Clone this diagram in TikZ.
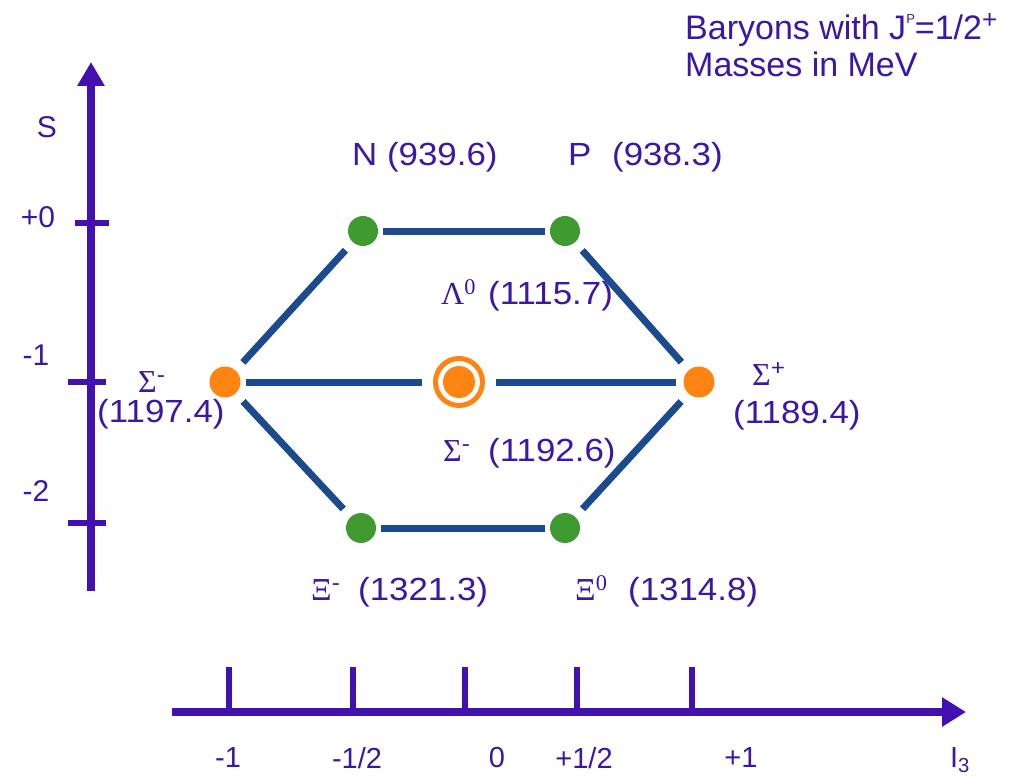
\documentclass[tikz,border=0pt]{standalone}
\usepackage{fontspec}
\setmainfont{Liberation Sans}
\newfontfamily\lbl{Liberation Sans}[FakeStretch=1.09]
\newfontfamily\gr{Liberation Serif}
\usetikzlibrary{arrows.meta}
\definecolor{txtcol}{HTML}{3A17A6}
\definecolor{axiscol}{HTML}{4310B2}
\definecolor{edgeblue}{HTML}{1B4A8E}
\definecolor{dotgreen}{HTML}{3F9A2F}
\definecolor{dotorange}{HTML}{FF8412}
\tikzset{
  dot/.style={circle, inner sep=0pt, minimum size=30pt, outer sep=0pt},
  gdot/.style={dot, fill=dotgreen},
  odot/.style={dot, fill=dotorange, minimum size=31pt},
  edge/.style={draw=edgeblue, line width=7pt},
  hedge/.style={edge, shorten <=5pt, shorten >=5pt},
  dedge/.style={edge, shorten <=11pt, shorten >=11pt},
  axis/.style={draw=axiscol, line width=8pt},
  tickmark/.style={draw=axiscol, line width=6pt},
  lab/.style={text=txtcol, font=\lbl\fontsize{32}{36}\selectfont, inner sep=0pt, anchor=base west},
  axlab/.style={text=txtcol, font=\fontsize{30}{32}\selectfont, inner sep=0pt},
}
\begin{document}
\begin{tikzpicture}[x=1pt, y=-1pt]
\useasboundingbox (0,0) rectangle (1021,776);
% particles
\node[gdot] (N) at (363,231) {};
\node[gdot] (P) at (565,231) {};
\node[odot] (Sm) at (225,382) {};
\node[odot] (Sp) at (699,382) {};
\node[gdot] (Xm) at (361,528) {};
\node[gdot] (X0) at (565,528) {};
\node[circle, draw=dotorange, line width=5pt, minimum size=47pt, inner sep=0pt,
  path picture={\fill[dotorange] (path picture bounding box.center) circle (16pt);}] (C) at (459,382) {};
% edges
\draw[hedge] (N) -- (P);
\draw[hedge] (Xm) -- (X0);
\draw[dedge] (N) -- (Sm);
\draw[dedge] (Sm) -- (Xm);
\draw[dedge] (P) -- (Sp);
\draw[dedge] (Sp) -- (X0);
\draw[edge, shorten <=5pt, shorten >=11pt] (Sm) -- (C);
\draw[edge, shorten <=11pt, shorten >=8pt] (C) -- (Sp);
% labels
\node[lab] (lN) at (352,165) {N (939.6)};
\node[lab] (lP) at (568,165) {\makebox[44pt][l]{P}(938.3)};
\node[lab] (lL) at (441,304) {\makebox[47pt][l]{\gr Λ\textsuperscript{0}}(1115.7)};
\node[lab] (lS0) at (443,461) {\makebox[45pt][l]{{\gr Σ}\textsuperscript{-}}(1192.6)};
\node[lab] (lSm) at (138,392) {{\gr Σ}\textsuperscript{-}};
\node[lab] (lSm2) at (97,422) {(1197.4)};
\node[lab] (lSp) at (752,385) {{\gr Σ}\textsuperscript{+}};
\node[lab] (lSp2) at (733,423) {(1189.4)};
\node[lab] (lXm) at (311,600) {\makebox[47pt][l]{{\gr Ξ}\textsuperscript{-}}(1321.3)};
\node[lab] (lX0) at (575,600) {\makebox[53pt][l]{\gr Ξ\textsuperscript{0}}(1314.8)};
% title
\node[lab, font=\fontsize{34}{37}\selectfont] (t1) at (685,40) {Baryons with J\raisebox{16pt}{\fontsize{13}{13}\selectfont P}=1/2\raisebox{11pt}{\fontsize{26}{26}\selectfont +}};
\node[lab, font=\fontsize{34}{37}\selectfont] (t2) at (685,77) {Masses in MeV};
% S axis
\coordinate (ybot) at (91,591);
\coordinate (ytop) at (91,62);
\draw[axis, -{Triangle[length=24pt, width=26pt]}] (ybot) -- (ytop);
\coordinate (t0a) at (75,223); \coordinate (t0b) at (109,223);
\coordinate (t1a) at (68,382); \coordinate (t1b) at (106,382);
\coordinate (t2a) at (68,523); \coordinate (t2b) at (106,523);
\draw[tickmark] (t0a) -- (t0b);
\draw[tickmark] (t1a) -- (t1b);
\draw[tickmark] (t2a) -- (t2b);
\node[axlab] (S) at (47,127) {S};
\node[axlab] (s0) at (38,217) {+0};
\node[axlab] (s1) at (36,355) {-1};
\node[axlab] (s2) at (36,491) {-2};
% I3 axis
\coordinate (xl) at (172,712);
\coordinate (xr) at (966,712);
\draw[axis, -{Triangle[length=24pt, width=28pt]}] (xl) -- (xr);
\foreach \x/\n in {229/a,353/b,465/c,577/d,692/e}{
  \coordinate (b\n) at (\x,712);
  \coordinate (u\n) at (\x,667);
  \draw[tickmark] (b\n) -- (u\n);
}
\node[axlab, font=\fontsize{29}{32}\selectfont] (i1) at (228,758) {-1};
\node[axlab, font=\fontsize{29}{32}\selectfont] (i2) at (357,758) {-1/2};
\node[axlab, font=\fontsize{29}{32}\selectfont] (i3) at (497,758) {0};
\node[axlab, font=\fontsize{29}{32}\selectfont] (i4) at (584,758) {+1/2};
\node[axlab, font=\fontsize{29}{32}\selectfont] (i5) at (741,758) {+1};
\node[axlab, font=\fontsize{29}{32}\selectfont] (i6) at (960,760) {I\textsubscript{3}};
\end{tikzpicture}
\end{document}
